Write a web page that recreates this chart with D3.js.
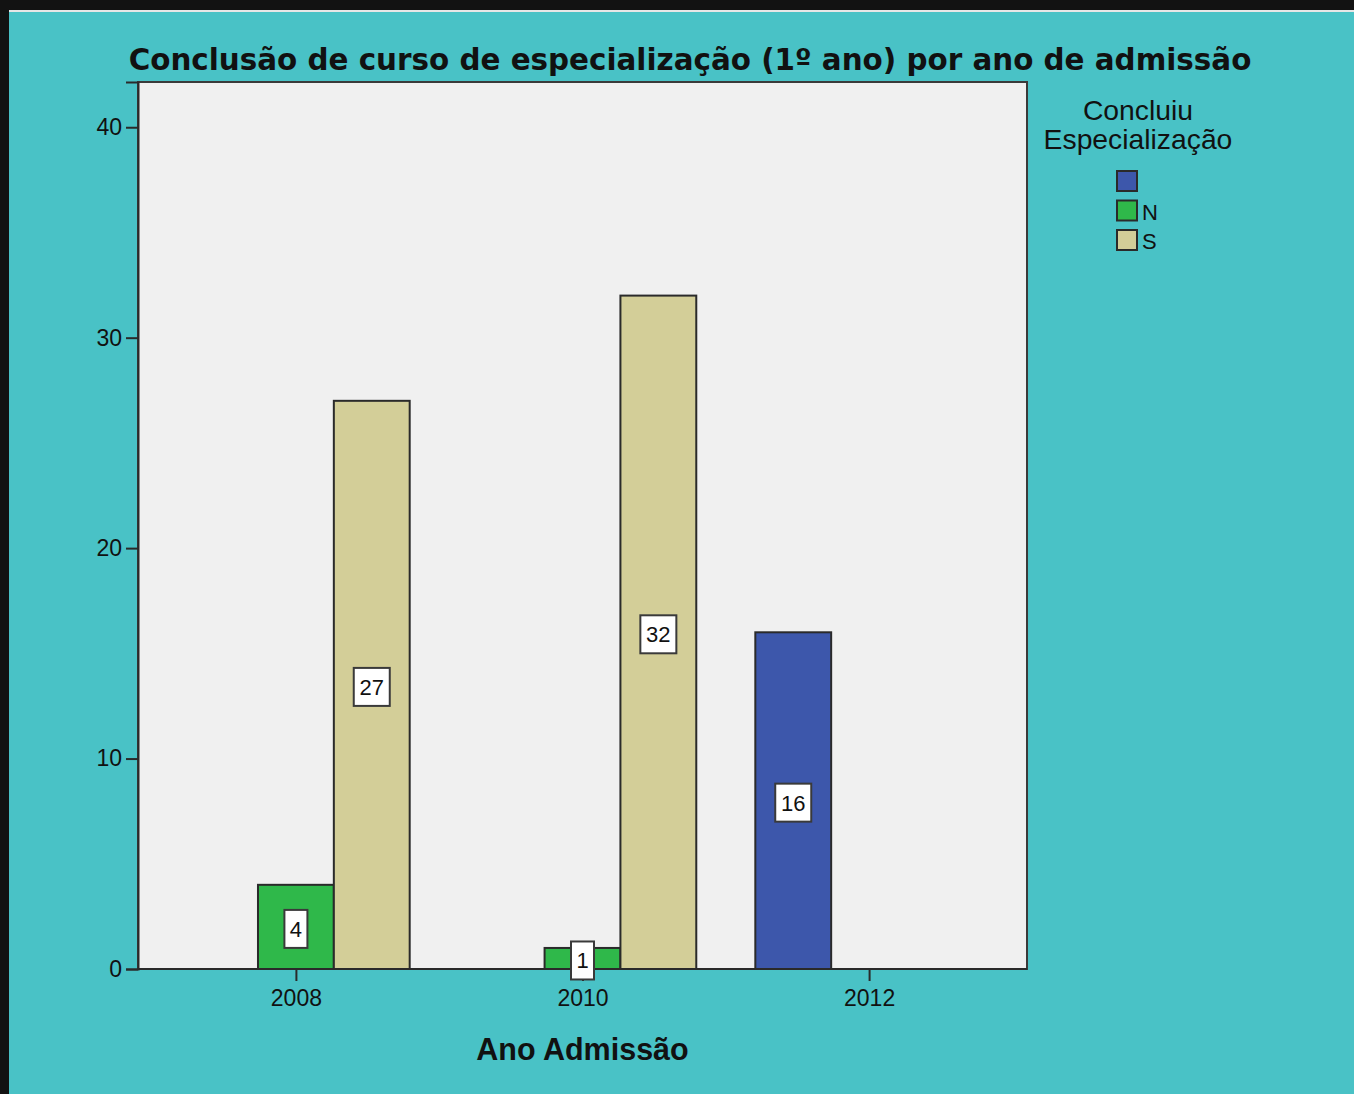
<!DOCTYPE html>
<html>
<head>
<meta charset="utf-8">
<script src="https://cdn.jsdelivr.net/npm/d3@7"></script>
<style>
  body { margin: 0; background: #121212; }
  text { font-family: "Liberation Sans", Arial, sans-serif; fill: #111; }
</style>
</head>
<body>
<div id="chart"></div>
<script>
var years = ["2008", "2010", "2012"];
var series = ["", "N", "S"];
var blankValues = [0, 0, 16];
var nValues = [4, 1, 0];
var sValues = [27, 32, 0];
var yTicks = [0, 10, 20, 30, 40];

var colors = ["#3D57AB", "#2FB84A", "#D3CE98"];

var W = 1354, H = 1094;
var pLeft = 138, pRight = 1027, pTop = 82, pBottom = 969;

var svg = d3.select("#chart")
    .append("svg")
    .attr("width", W)
    .attr("height", H);

// frame
svg.append("rect").attr("width", W).attr("height", H).attr("fill", "#121212");
svg.append("rect").attr("x", 9).attr("y", 10).attr("width", W - 9).attr("height", 3).attr("fill", "#e6e6e6");
svg.append("rect").attr("x", 9).attr("y", 12).attr("width", W - 9).attr("height", H - 12).attr("fill", "#49C2C6");

// plot background
svg.append("rect")
    .attr("x", pLeft).attr("y", pTop)
    .attr("width", pRight - pLeft).attr("height", pBottom - pTop)
    .attr("fill", "#F0F0F0")
    .attr("stroke", "#3a3a3a")
    .attr("stroke-width", 2);

var y = d3.scaleLinear()
    .domain([0, 42.15])
    .range([pBottom, pTop]);

var x0 = d3.scaleBand()
    .domain(years)
    .range([pLeft, pRight])
    .paddingInner(0.206)
    .paddingOuter(0.154);

var x1 = d3.scaleBand()
    .domain(series)
    .range([0, x0.bandwidth()]);

var rows = [];
years.forEach(function (yr, i) {
    [blankValues, nValues, sValues].forEach(function (vals, j) {
        rows.push({ year: yr, key: series[j], idx: j, value: vals[i] });
    });
});
rows = rows.filter(function (d) { return d.value > 0; });

svg.append("g")
    .selectAll("rect")
    .data(rows)
    .enter()
    .append("rect")
    .attr("x", function (d) { return x0(d.year) + x1(d.key); })
    .attr("y", function (d) { return y(d.value); })
    .attr("width", x1.bandwidth())
    .attr("height", function (d) { return y(0) - y(d.value); })
    .attr("fill", function (d) { return colors[d.idx]; })
    .attr("stroke", "#2a2a2a")
    .attr("stroke-width", 2);

// axes
var yAxis = d3.axisLeft(y).tickValues(yTicks).tickSize(12).tickPadding(4);
var gy = svg.append("g").attr("transform", "translate(" + pLeft + ",0)").call(yAxis);
gy.select(".domain").attr("stroke", "#2a2a2a").attr("stroke-width", 2);
gy.selectAll(".tick line").attr("stroke", "#2a2a2a").attr("stroke-width", 2);
gy.selectAll(".tick text").style("font-size", "23px").style("font-family", "Liberation Sans").attr("fill", "#111");

var xTick = d3.scalePoint().domain(years).range([
    x0(years[0]) + x1("N") + x1.bandwidth() / 2,
    x0(years[2]) + x1("N") + x1.bandwidth() / 2]);
var xAxis = d3.axisBottom(xTick).tickSize(12).tickPadding(9);
var gx = svg.append("g").attr("transform", "translate(0," + pBottom + ")").call(xAxis);
gx.select(".domain").remove();
gx.selectAll(".tick line").attr("stroke", "#2a2a2a").attr("stroke-width", 2);
gx.selectAll(".tick text").style("font-size", "23px").style("font-family", "Liberation Sans").attr("fill", "#111");
svg.append("line")
    .attr("x1", pLeft).attr("x2", pRight).attr("y1", pBottom).attr("y2", pBottom)
    .attr("stroke", "#2a2a2a").attr("stroke-width", 2);

// value labels
var lab = svg.append("g").selectAll("g")
    .data(rows)
    .enter()
    .append("g")
    .attr("transform", function (d) {
        return "translate(" + (x0(d.year) + x1(d.key) + x1.bandwidth() / 2) + "," + ((y(d.value) + y(0)) / 2 + 2) + ")";
    });
lab.append("rect")
    .attr("x", function (d) { return String(d.value).length > 1 ? -18 : -11.5; })
    .attr("y", -19)
    .attr("width", function (d) { return String(d.value).length > 1 ? 36 : 23; })
    .attr("height", 38)
    .attr("fill", "#fff")
    .attr("stroke", "#3a3a3a")
    .attr("stroke-width", 2);
lab.append("text")
    .attr("text-anchor", "middle")
    .attr("dy", "0.36em")
    .style("font-size", "22px")
    .text(function (d) { return d.value; });

// title
svg.append("text")
    .attr("x", 690).attr("y", 70)
    .attr("text-anchor", "middle")
    .style("font-family", "DejaVu Sans")
    .style("font-size", "29.4px")
    .style("font-weight", "bold")
    .text("Conclusão de curso de especialização (1º ano) por ano de admissão");

svg.append("text")
    .attr("x", (pLeft + pRight) / 2).attr("y", 1060)
    .attr("text-anchor", "middle")
    .style("font-size", "30.5px")
    .style("font-weight", "bold")
    .text("Ano Admissão");

// legend
var legend = svg.append("g");
legend.append("text").attr("x", 1138).attr("y", 120).attr("text-anchor", "middle")
    .style("font-size", "28.3px").text("Concluiu");
legend.append("text").attr("x", 1138).attr("y", 149).attr("text-anchor", "middle")
    .style("font-size", "28.3px").text("Especialização");
var li = legend.selectAll("g.item")
    .data(series)
    .enter()
    .append("g")
    .attr("class", "item")
    .attr("transform", function (d, i) { return "translate(1117," + (171 + i * 29.5) + ")"; });
li.append("rect")
    .attr("width", 20).attr("height", 20)
    .attr("fill", function (d, i) { return colors[i]; })
    .attr("stroke", "#2a2a2a").attr("stroke-width", 2);
li.append("text")
    .attr("x", 25).attr("y", 19)
    .style("font-size", "22px")
    .text(function (d) { return d; });
</script>
</body>
</html>
